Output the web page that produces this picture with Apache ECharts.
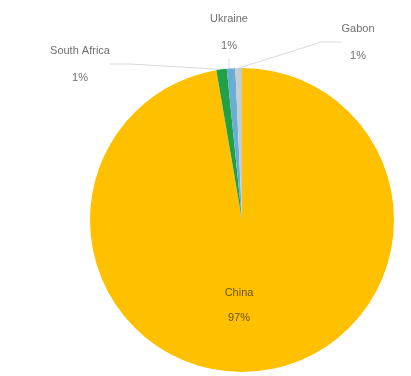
<!DOCTYPE html>
<html>
<head>
<meta charset="utf-8">
<script src="https://cdn.jsdelivr.net/npm/echarts@6/dist/echarts.min.js"></script>
<style>
  html, body { margin: 0; padding: 0; background: #ffffff; }
  #chart { width: 411px; height: 376px; }
</style>
</head>
<body>
<div id="chart"></div>
<script>
// Share of production by country
const countries = ['China', 'South Africa', 'Ukraine', 'Gabon'];
const shares = [97.3, 1.1, 0.9, 0.7];
const percentLabels = ['97%', '1%', '1%', '1%'];
const sliceColors = ['#FFC000', '#22A045', '#6AAED6', '#C8CCCF'];

// label anchor points (index -> [x, y])
const labelSpots = { 0: [239, 305], 1: [80, 64], 2: [229, 32], 3: [358, 42] };

const chart = echarts.init(document.getElementById('chart'), null, { renderer: 'canvas' });

const data = countries.map((name, i) => {
  const item = {
    name: name,
    value: shares[i],
    itemStyle: { color: sliceColors[i] }
  };
  if (i === 0) {
    item.label = { position: 'inside', color: '#6b5200', fontSize: 11, lineHeight: 25 };
    item.labelLine = { show: false };
  }
  return item;
});

chart.setOption({
  animation: false,
  backgroundColor: '#ffffff',
  series: [{
    type: 'pie',
    center: [242, 220],
    radius: [0, 152],
    startAngle: 90,
    clockwise: true,
    avoidLabelOverlap: false,
    data: data,
    itemStyle: { borderColor: '#ffffff', borderWidth: 0 },
    label: {
      show: true,
      position: 'outside',
      formatter: p => p.name + '\n' + percentLabels[p.dataIndex],
      fontFamily: 'Liberation Sans, DejaVu Sans, sans-serif',
      fontSize: 11,
      lineHeight: 27,
      color: '#707070',
      align: 'center'
    },
    labelLine: {
      show: true,
      length: 10,
      length2: 20,
      lineStyle: { color: '#d6dbdf', width: 1 }
    },
    labelLayout: function (params) {
      const spot = labelSpots[params.dataIndex];
      if (!spot) return {};
      return { x: spot[0], y: spot[1], align: 'center', verticalAlign: 'middle' };
    }
  }]
});
</script>
</body>
</html>
